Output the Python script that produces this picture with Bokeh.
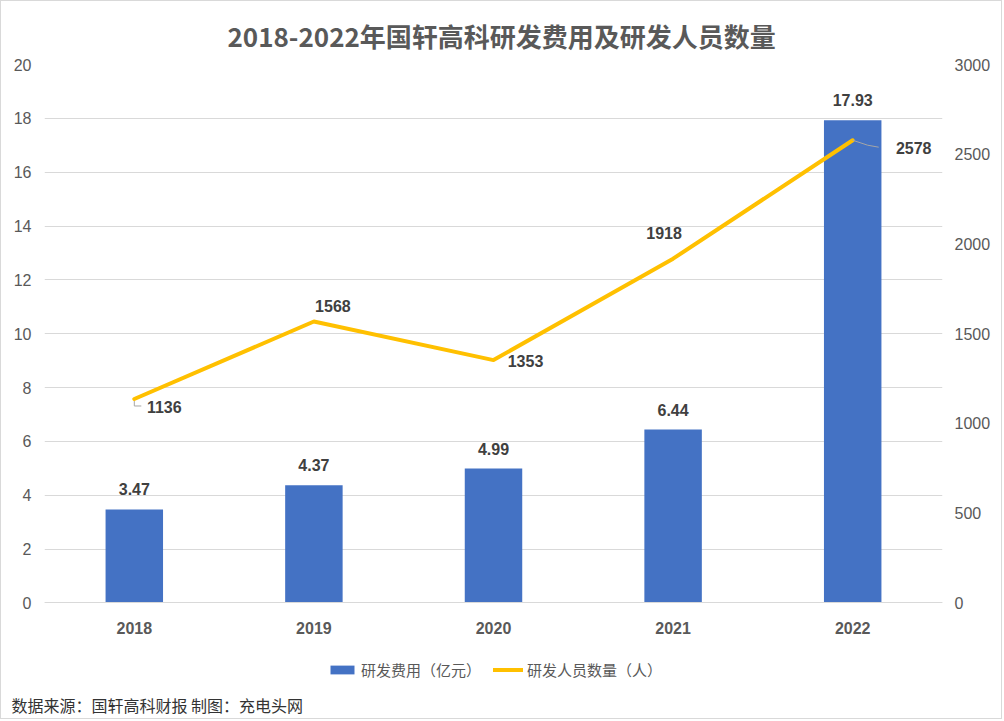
from bokeh.plotting import figure
from bokeh.models import (Range1d, LinearAxis, FixedTicker, ColumnDataSource,
                          Legend, LegendItem, Title)
from bokeh.core.properties import value
from bokeh.embed import file_html
from bokeh.resources import INLINE

years = ["2018", "2019", "2020", "2021", "2022"]
rd_cost = [3.47, 4.37, 4.99, 6.44, 17.93]
rd_staff = [1136, 1568, 1353, 1918, 2578]
left_ticks = [0, 2, 4, 6, 8, 10, 12, 14, 16, 18, 20]
right_ticks = [0, 500, 1000, 1500, 2000, 2500, 3000]
title_text = "2018-2022年国轩高科研发费用及研发人员数量"
source_text = "数据来源：国轩高科财报 制图：充电头网"
cost_label = "研发费用（亿元）"
staff_label = "研发人员数量（人）"

# label offsets in screen pixels (style)
staff_dx = [30, 19, 32, -9, 61]
staff_dy = [8, -15, 1, -26, 8]

CJK = "Noto Sans CJK SC"
NUM = "Liberation Sans"
GRAY = "#595959"

W, H = 1002, 719
FRAME_L, FRAME_R, FRAME_T, FRAME_B = 43, 941, 63, 689
ZERO_PX = 604  # pixel row of the value 0 (x-axis)

xs = list(range(len(years)))
ymax_l = left_ticks[-1]
ymax_r = right_ticks[-1]
below_frac = (FRAME_B - ZERO_PX) / (ZERO_PX - FRAME_T)

p = figure(width=W, height=H, output_backend="svg", toolbar_location=None,
           x_range=Range1d(-0.5, len(years) - 0.5),
           y_range=Range1d(-ymax_l * below_frac, ymax_l),
           min_border_left=FRAME_L, min_border_right=W - FRAME_R,
           min_border_top=FRAME_T, min_border_bottom=H - FRAME_B)
p.extra_y_ranges = {"right": Range1d(-ymax_r * below_frac, ymax_r)}
p.styles = {"border": "1px solid #d9d9d9"}

p.title = Title(text=title_text, align="left", offset=183, vertical_align="top",
                text_font=CJK, text_font_size="26px", text_color=GRAY,
                text_font_style="bold", standoff=18)

bars = p.vbar(x=xs, top=rd_cost, width=0.32, fill_color="#4472C4", line_color=None)
line = p.line(xs, rd_staff, y_range_name="right", line_width=4, line_color="#FFC000",
              line_join="round", line_cap="round")

# leader lines (derived from data points + pixel offsets)
px_x = (len(years)) / (FRAME_R - FRAME_L)
px_y = ymax_r / (ZERO_PX - FRAME_T)
p.multi_line(
    xs=[[xs[0], xs[0], xs[0] + 7 * px_x],
        [xs[4], xs[4] + 15 * px_x, xs[4] + 26 * px_x]],
    ys=[[rd_staff[0] - 2 * px_y, rd_staff[0] - 7 * px_y, rd_staff[0] - 7 * px_y],
        [rd_staff[4], rd_staff[4] - 5 * px_y, rd_staff[4] - 7 * px_y]],
    y_range_name="right", line_color="#a6a6a6", line_width=1)

bar_src = ColumnDataSource(dict(x=xs, y=rd_cost, t=[f"{v:.2f}" for v in rd_cost]))
p.text(x="x", y="y", text="t", source=bar_src, y_offset=-20, text_align="center",
       text_baseline="middle", text_font=value(NUM), text_font_size="16px",
       text_font_style="bold", text_color="#404040")

staff_src = ColumnDataSource(dict(x=xs, y=rd_staff, t=[str(v) for v in rd_staff],
                                  dx=staff_dx, dy=staff_dy))
p.text(x="x", y="y", text="t", source=staff_src, x_offset="dx", y_offset="dy",
       y_range_name="right", text_align="center", text_baseline="middle",
       text_font=value(NUM), text_font_size="16px", text_font_style="bold",
       text_color="#404040")

p.xgrid.visible = False
p.outline_line_color = None

p.xaxis.fixed_location = 0
p.xaxis.ticker = FixedTicker(ticks=xs)
p.xaxis.major_label_overrides = {i: y for i, y in zip(xs, years)}
p.xaxis.axis_line_color = "#d9d9d9"
p.xaxis.major_tick_line_color = None
p.xaxis.minor_tick_line_color = None
p.xaxis.major_tick_out = 0
p.xaxis.major_label_standoff = 19
p.xaxis.major_label_text_font = NUM
p.xaxis.major_label_text_font_size = "16px"
p.xaxis.major_label_text_font_style = "bold"
p.xaxis.major_label_text_color = GRAY

lt = FixedTicker(ticks=left_ticks)
p.yaxis.ticker = lt
p.ygrid.ticker = lt
p.ygrid.grid_line_color = "#d9d9d9"
yr = LinearAxis(y_range_name="right", ticker=FixedTicker(ticks=right_ticks))
p.add_layout(yr, "right")
for ax, so in ((p.yaxis[0], 13), (yr, 12)):
    ax.axis_line_color = None
    ax.major_tick_line_color = None
    ax.minor_tick_line_color = None
    ax.major_tick_out = 0
    ax.major_label_standoff = so
    ax.major_label_text_font = NUM
    ax.major_label_text_font_size = "16px"
    ax.major_label_text_color = GRAY

legend = Legend(items=[LegendItem(label=cost_label, renderers=[bars]),
                       LegendItem(label=staff_label, renderers=[line])],
                orientation="horizontal", location=(283, 7), margin=0, padding=0,
                spacing=12, label_standoff=4, glyph_width=30, glyph_height=11,
                label_text_font=CJK, label_text_font_size="15px", label_text_color=GRAY,
                background_fill_alpha=0, border_line_color=None)
p.add_layout(legend, "center")

p.add_layout(Title(text=source_text, align="left", offset=-33, standoff=7, text_font=CJK,
                   text_font_size="16px", text_color="#333333", text_font_style="normal"),
             "below")

open("out.html", "w").write(file_html(p, INLINE))
